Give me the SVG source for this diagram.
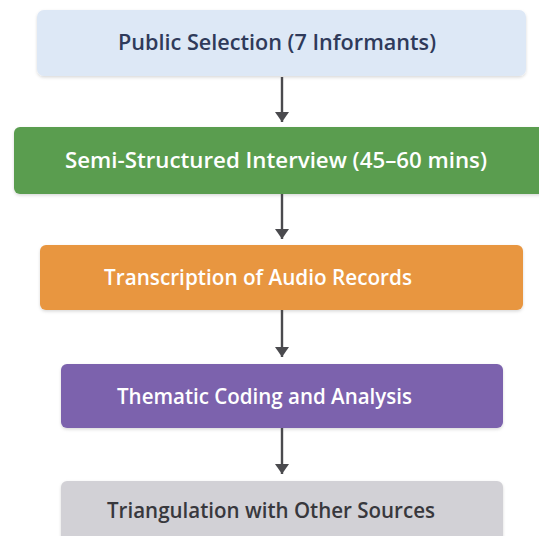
<svg xmlns="http://www.w3.org/2000/svg" width="539" height="536" viewBox="0 0 539 536">
<defs>
<marker id="ah" viewBox="0 0 10 14" refX="10" refY="7" markerWidth="10" markerHeight="14" markerUnits="userSpaceOnUse" orient="auto">
<path d="M0,0 L10,7 L0,14 Z" fill="#4a4a4e"/>
</marker>
<filter id="sh" x="-5%" y="-20%" width="110%" height="150%">
<feDropShadow dx="0" dy="1.5" stdDeviation="1.5" flood-color="#000" flood-opacity="0.15"/>
</filter>
<style>
.box{filter:url(#sh)}
.t{font-family:"Open Sans","Noto Sans","Liberation Sans",sans-serif;font-weight:600;font-size:21.5px}
.dark{fill:#2f3a5a}
.light{fill:#ffffff}
.conn line{stroke:#4a4a4e;stroke-width:2.4;marker-end:url(#ah)}
</style>
</defs>
<rect width="539" height="536" fill="#ffffff"/>
<g id="n1">
<rect class="box" x="37" y="10" width="489" height="66" rx="7" fill="#dde8f6"/>
<text class="t dark" x="118" y="50" textLength="318" lengthAdjust="spacingAndGlyphs">Public Selection (7 Informants)</text>
</g>
<g id="n2">
<rect class="box" x="14" y="127" width="535" height="67" rx="6" fill="#5a9d50"/>
<text class="t light" x="65" y="168" textLength="422" lengthAdjust="spacingAndGlyphs">Semi-Structured Interview (45–60 mins)</text>
</g>
<g id="n3">
<rect class="box" x="40" y="245" width="483" height="65" rx="6" fill="#e8963f"/>
<text class="t light" x="104" y="285" textLength="308" lengthAdjust="spacingAndGlyphs">Transcription of Audio Records</text>
</g>
<g id="n4">
<rect class="box" x="61" y="364" width="442" height="64" rx="6" fill="#7b62ad"/>
<text class="t light" x="117" y="404" textLength="295" lengthAdjust="spacingAndGlyphs">Thematic Coding and Analysis</text>
</g>
<g id="n5">
<rect class="box" x="61" y="481" width="442" height="70" rx="6" fill="#d2d1d6"/>
<text class="t" fill="#38383d" x="107" y="518" textLength="328" lengthAdjust="spacingAndGlyphs">Triangulation with Other Sources</text>
</g>
<g id="connectors" class="conn">
<line x1="282" y1="77" x2="282" y2="122"/>
<line x1="282" y1="194" x2="282" y2="239"/>
<line x1="282" y1="310" x2="282" y2="357"/>
<line x1="282" y1="428" x2="282" y2="474"/>
</g>
</svg>
